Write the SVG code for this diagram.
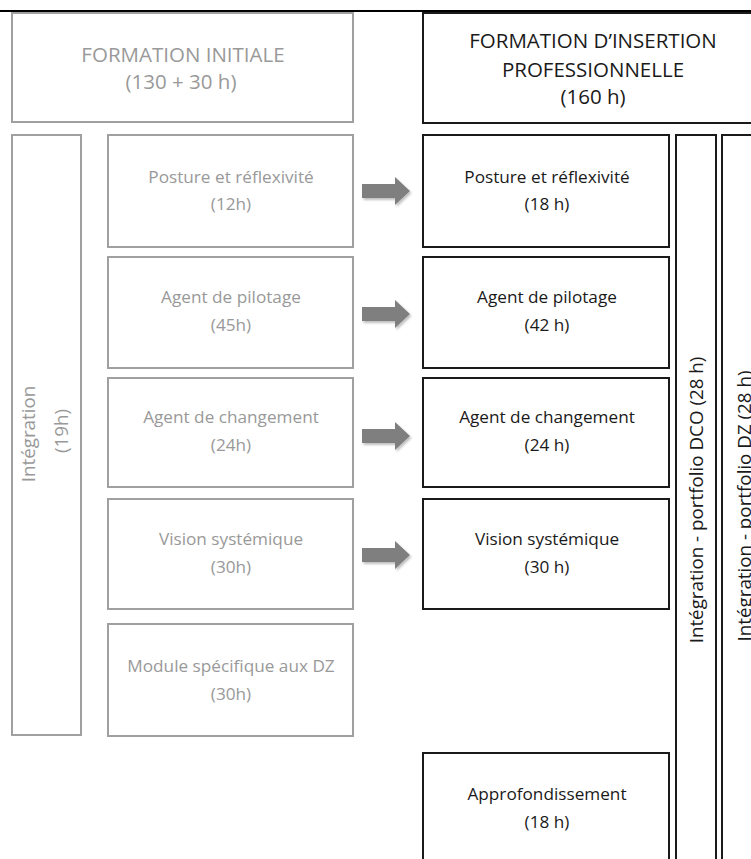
<svg xmlns="http://www.w3.org/2000/svg" width="751" height="859" viewBox="0 0 751 859">
<defs>
<filter id="sh" x="-20%" y="-30%" width="150%" height="170%">
<feDropShadow dx="1.5" dy="2" stdDeviation="1.2" flood-color="#000" flood-opacity="0.25"/>
</filter>
</defs>
<style>
text{font-family:"Open Sans","Liberation Sans",sans-serif;text-anchor:middle}
.g rect{fill:#fff;stroke:#a0a0a0;stroke-width:2}
.g text{fill:#999}
.b rect{fill:#fff;stroke:#1a1a1a;stroke-width:2}
.b text{fill:#1a1a1a}
.hd{font-size:20.5px}
.md{font-size:17.2px}
.vt{font-size:18.8px}
.arr{fill:#7f7f7f;filter:url(#sh)}
</style>
<line x1="0" y1="11" x2="751" y2="11" stroke="#000" stroke-width="2"/>
<g id="fi-header" class="g">
<rect x="12" y="13" width="341" height="109"/>
<text class="hd" x="183" y="62">FORMATION INITIALE</text>
<text class="hd" x="181" y="89">(130 + 30 h)</text>
</g>
<g id="fip-header" class="b">
<rect x="423" y="13" width="340" height="110"/>
<text class="hd" x="593" y="48">FORMATION D’INSERTION</text>
<text class="hd" x="593" y="77">PROFESSIONNELLE</text>
<text class="hd" x="593" y="104">(160 h)</text>
</g>
<g id="fi-integration" class="g">
<rect x="12" y="135" width="69" height="600"/>
<text class="vt" transform="translate(35,434) rotate(-90)">Intégration</text>
<text class="vt" transform="translate(68,431) rotate(-90)">(19h)</text>
</g>
<g id="fi-posture" class="g">
<rect x="108" y="135" width="245" height="112"/>
<text class="md" x="231" y="183">Posture et réflexivité</text>
<text class="md" x="231" y="210">(12h)</text>
</g>
<g id="fi-pilotage" class="g">
<rect x="108" y="257" width="245" height="111"/>
<text class="md" x="231" y="303">Agent de pilotage</text>
<text class="md" x="231" y="331">(45h)</text>
</g>
<g id="fi-changement" class="g">
<rect x="108" y="378" width="245" height="109"/>
<text class="md" x="231" y="423">Agent de changement</text>
<text class="md" x="231" y="451">(24h)</text>
</g>
<g id="fi-vision" class="g">
<rect x="108" y="499" width="245" height="110"/>
<text class="md" x="231" y="545">Vision systémique</text>
<text class="md" x="231" y="573">(30h)</text>
</g>
<g id="fi-module-dz" class="g">
<rect x="108" y="624" width="245" height="112"/>
<text class="md" x="231" y="672">Module spécifique aux DZ</text>
<text class="md" x="231" y="700">(30h)</text>
</g>
<g id="fip-posture" class="b">
<rect x="423" y="135" width="246" height="112"/>
<text class="md" x="547" y="183">Posture et réflexivité</text>
<text class="md" x="547" y="210">(18 h)</text>
</g>
<g id="fip-pilotage" class="b">
<rect x="423" y="257" width="246" height="111"/>
<text class="md" x="547" y="303">Agent de pilotage</text>
<text class="md" x="547" y="331">(42 h)</text>
</g>
<g id="fip-changement" class="b">
<rect x="423" y="378" width="246" height="109"/>
<text class="md" x="547" y="423">Agent de changement</text>
<text class="md" x="547" y="451">(24 h)</text>
</g>
<g id="fip-vision" class="b">
<rect x="423" y="499" width="246" height="110"/>
<text class="md" x="547" y="545">Vision systémique</text>
<text class="md" x="547" y="573">(30 h)</text>
</g>
<g id="fip-approfondissement" class="b">
<rect x="423" y="753" width="246" height="130"/>
<text class="md" x="547" y="800">Approfondissement</text>
<text class="md" x="547" y="828">(18 h)</text>
</g>
<g id="fip-portfolio-dco" class="b">
<rect x="676" y="135" width="40" height="760"/>
<text class="vt" transform="translate(703,500) rotate(-90)">Intégration - portfolio DCO (28 h)</text>
</g>
<g id="fip-portfolio-dz" class="b">
<rect x="722" y="135" width="60" height="760"/>
<text class="vt" transform="translate(751,506) rotate(-90)">Intégration - portfolio DZ (28 h)</text>
</g>
<g id="connectors">
<path class="arr" d="M362,184H395V177L410,191L395,205V198H362Z"/>
<path class="arr" d="M362,307H395V300L410,314L395,328V321H362Z"/>
<path class="arr" d="M362,429H395V422L410,436L395,450V443H362Z"/>
<path class="arr" d="M362,548H395V541L410,555L395,569V562H362Z"/>
</g>
</svg>
